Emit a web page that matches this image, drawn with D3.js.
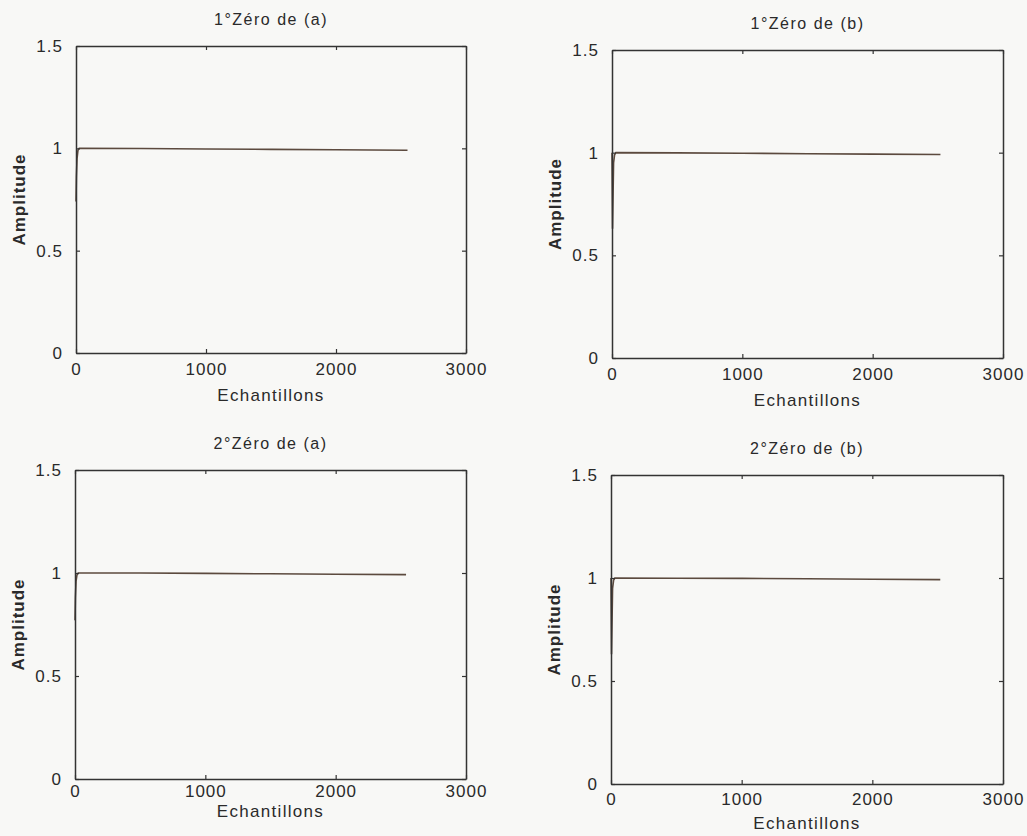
<!DOCTYPE html>
<html>
<head>
<meta charset="utf-8">
<script src="https://cdn.jsdelivr.net/npm/d3@7"></script>
<style>
  html, body { margin: 0; padding: 0; background: #f8f8f6; }
  svg { display: block; }
  text { font-family: "Liberation Sans", Arial, sans-serif; fill: #2a2a2a; }
</style>
</head>
<body>
<svg id="chart" width="1027" height="836"></svg>
<script>
// ---- data ----
const panelTitles = ["1°Zéro de (a)", "1°Zéro de (b)", "2°Zéro de (a)", "2°Zéro de (b)"];
const xLabel = "Echantillons";
const yLabel = "Amplitude";
const xTicks = [0, 1000, 2000, 3000];
const yTicks = [0, 0.5, 1, 1.5];
const yTickLabels = ["0", "0.5", "1", "1.5"];

const samples1a = [0, 3, 8, 15, 25, 500, 1000, 1500, 2000, 2550];
const amp1a     = [0.74, 0.86, 0.95, 0.99, 1.0, 0.999, 0.997, 0.995, 0.993, 0.991];
const samples1b = [0, 4, 12, 20, 30, 500, 1000, 1500, 2000, 2520];
const amp1b     = [1.0, 0.63, 0.95, 0.99, 1.0, 0.999, 0.997, 0.995, 0.993, 0.991];
const samples2a = [0, 3, 8, 15, 25, 500, 1000, 1500, 2000, 2540];
const amp2a     = [0.77, 0.88, 0.96, 0.99, 1.0, 1.0, 0.998, 0.996, 0.994, 0.992];
const samples2b = [0, 4, 12, 20, 30, 500, 1000, 1500, 2000, 2520];
const amp2b     = [1.0, 0.63, 0.95, 0.99, 1.0, 0.999, 0.998, 0.996, 0.994, 0.992];

// ---- layout (pixel boxes of each subplot) ----
const panels = [
  { title: panelTitles[0], xs: samples1a, ys: amp1a, left: 76,  right: 466,  top: 46,  bottom: 353, xlab: 44, tlab: 16 },
  { title: panelTitles[1], xs: samples1b, ys: amp1b, left: 612, right: 1003, top: 50,  bottom: 358, xlab: 44, tlab: 16 },
  { title: panelTitles[2], xs: samples2a, ys: amp2a, left: 75,  right: 466,  top: 470, bottom: 779, xlab: 34, tlab: 12 },
  { title: panelTitles[3], xs: samples2b, ys: amp2b, left: 611, right: 1003, top: 475, bottom: 784, xlab: 41, tlab: 15 }
];

const svg = d3.select("#chart");
const axisColor = "#333";
const lineColor = "#5c4a3e";

panels.forEach(p => {
  const x = d3.scaleLinear().domain([0, 3000]).range([p.left, p.right]);
  const y = d3.scaleLinear().domain([0, 1.5]).range([p.bottom, p.top]);
  const g = svg.append("g");

  // data line
  const pts = p.xs.map((v, i) => [v, p.ys[i]]);
  g.append("path")
    .datum(pts)
    .attr("fill", "none")
    .attr("stroke", lineColor)
    .attr("stroke-width", 1.6)
    .attr("d", d3.line().x(d => x(d[0])).y(d => y(d[1])));

  // axes
  const bottom = g.append("g").attr("transform", `translate(0,${p.bottom})`)
    .call(d3.axisBottom(x).tickValues(xTicks).tickSizeInner(-4).tickSizeOuter(0).tickPadding(p.tlab - 6).tickFormat(d3.format("d")));
  const top = g.append("g").attr("transform", `translate(0,${p.top})`)
    .call(d3.axisTop(x).tickValues(xTicks).tickSizeInner(-4).tickSizeOuter(0).tickFormat(""));
  const left = g.append("g").attr("transform", `translate(${p.left},0)`)
    .call(d3.axisLeft(y).tickValues(yTicks).tickSizeInner(-4).tickSizeOuter(0).tickPadding(13)
      .tickFormat((d, i) => yTickLabels[i]));
  const right = g.append("g").attr("transform", `translate(${p.right},0)`)
    .call(d3.axisRight(y).tickValues(yTicks).tickSizeInner(-4).tickSizeOuter(0).tickFormat(""));

  [bottom, top, left, right].forEach(a => {
    a.select(".domain").attr("stroke", axisColor).attr("stroke-width", 1.5);
    a.selectAll(".tick line").attr("stroke", axisColor).attr("stroke-width", 1.2);
    a.selectAll(".tick text").attr("font-size", 17).attr("letter-spacing", 1)
      .attr("font-family", "Liberation Sans, Arial, sans-serif").attr("fill", "#2a2a2a");
  });

  // title
  g.append("text")
    .attr("x", (p.left + p.right) / 2)
    .attr("y", p.top - 25)
    .attr("text-anchor", "middle")
    .attr("dominant-baseline", "middle")
    .attr("font-size", 16)
    .attr("letter-spacing", 1.5)
    .text(p.title);

  // x label
  g.append("text")
    .attr("x", (p.left + p.right) / 2)
    .attr("y", p.bottom + p.xlab)
    .attr("text-anchor", "middle")
    .attr("dominant-baseline", "middle")
    .attr("font-size", 17)
    .attr("letter-spacing", 1.3)
    .text(xLabel);

  // y label
  const cy = (p.top + p.bottom) / 2;
  g.append("text")
    .attr("transform", `translate(${p.left - 55},${cy}) rotate(-90)`)
    .attr("text-anchor", "middle")
    .attr("dominant-baseline", "middle")
    .attr("font-size", 17)
    .attr("font-weight", "bold")
    .attr("letter-spacing", 1)
    .text(yLabel);
});
</script>
</body>
</html>
